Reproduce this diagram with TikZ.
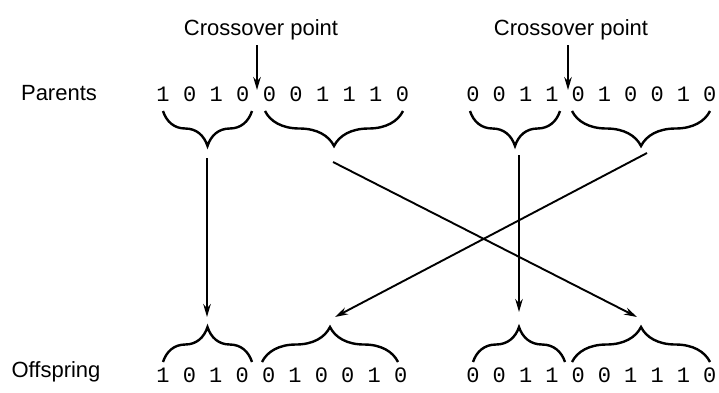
\documentclass[tikz,border=0pt]{standalone}
\usepackage{fontspec}
\setmainfont{Liberation Sans}
\newfontfamily\digitfont{Liberation Mono}
\usetikzlibrary{decorations.pathreplacing,arrows.meta}
\begin{document}
\begin{tikzpicture}[x=1pt,y=-1pt,
  lbl/.style={font=\fontsize{22}{24}\selectfont, inner sep=0pt},
  bit/.style={font=\digitfont\fontsize{22}{24}\selectfont, inner sep=0pt},
  brc/.style={decorate, decoration={brace, amplitude=35pt}, line width=2.4pt},
  arr/.style={-{Stealth[length=13pt,width=7.5pt]}, line width=1.9pt}]
\useasboundingbox (0,0) rectangle (719,392);

% labels
\node[lbl] (par) at (59,93) {Parents};
\node[lbl] (off) at (56,372) {Offspring};
\node[lbl] (cp1) at (261,30) {Crossover point};
\node[lbl] (cp2) at (571,30) {Crossover point};

% bits
\foreach \b [count=\i from 0] in {1,0,1,0,0,0,1,1,1,0}
  \node[bit] (pa\i) at ({163+26.6*\i},94) {\b};
\foreach \b [count=\i from 0] in {0,0,1,1,0,1,0,0,1,0}
  \node[bit] (pb\i) at ({473+26.3*\i},94) {\b};
\foreach \b [count=\i from 0] in {1,0,1,0,0,1,0,0,1,0}
  \node[bit] (oa\i) at ({163+26.4*\i},375) {\b};
\foreach \b [count=\i from 0] in {0,0,1,1,0,0,1,1,1,0}
  \node[bit] (ob\i) at ({473+26.3*\i},375) {\b};

% parent braces (tips down)
\draw[brc] (252,111) -- (163,111);
\draw[brc] (403,111) -- (265,111);
\draw[brc] (560,111) -- (470,111);
\draw[brc] (710,111) -- (572,111);

% offspring braces (tips up)
\draw[brc] (163,362) -- (252,362);
\draw[brc] (262,362) -- (398,362);
\draw[brc] (473,362) -- (565,362);
\draw[brc] (572,362) -- (710,362);

% crossover arrows
\coordinate (x1s) at (257,45);
\coordinate (x1e) at (257,90);
\coordinate (x2s) at (568,45);
\coordinate (x2e) at (568,90);
\draw[arr] (x1s) -- (x1e);
\draw[arr] (x2s) -- (x2e);

% recombination arrows
\coordinate (a1s) at (207,158);
\coordinate (a1e) at (207,317);
\coordinate (a2s) at (333,162);
\coordinate (a2e) at (637,317);
\coordinate (a3s) at (519,155);
\coordinate (a3e) at (519,312);
\coordinate (a4s) at (647,153);
\coordinate (a4e) at (335,317);
\draw[arr] (a1s) -- (a1e);
\draw[arr] (a2s) -- (a2e);
\draw[arr] (a3s) -- (a3e);
\draw[arr] (a4s) -- (a4e);
\end{tikzpicture}
\end{document}
